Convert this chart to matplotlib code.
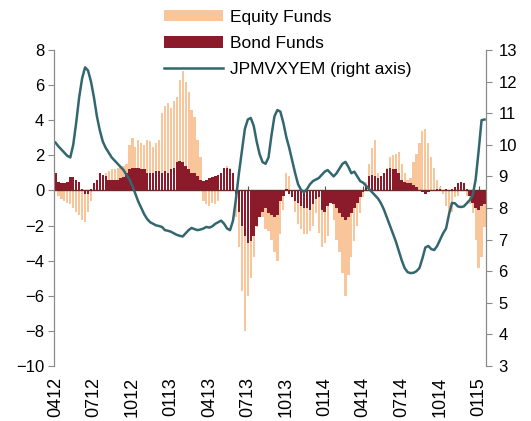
import matplotlib.pyplot as plt
from matplotlib.ticker import NullFormatter
import numpy as np

plt.rcParams['font.family'] = ['Liberation Sans', 'DejaVu Sans']

# weekly flows (% of AUM), left axis
equity = [0.4, -0.3, -0.5, -0.6, -0.7,
          -0.8, -1.0, -1.2, -1.4, -1.7,
          -1.8, -1.2, -0.6, 0.2, 0.5,
          0.8, 0.9, 1.0, 1.1, 1.2,
          1.2, 1.3, 1.4, 1.4, 1.5,
          2.6, 3.0, 2.5, 2.9, 2.7,
          2.6, 2.9, 2.8, 2.5, 2.7,
          2.9, 4.4, 4.8, 5.0, 4.7,
          5.1, 5.3, 6.3, 6.8, 6.2,
          5.6, 4.6, 4.2, 2.9, 1.9,
          -0.6, -0.8, -0.9, -0.7, -0.8,
          -0.6, 0.8, 1.2, 1.4, 1.3,
          0.9, -1.5, -3.2, -5.7, -8.0,
          -6.0, -5.0, -3.8, -2.1, -1.5,
          -1.5, -2.2, -2.3, -2.8, -3.5,
          -4.0, -2.5, -1.1, 1.0, 0.8,
          -0.3, -1.2, -1.9, -2.2, -2.5,
          -2.5, -2.3, -2.0, -1.3, -2.4,
          -3.2, -3.0, -2.6, -0.6, -1.7,
          -2.8, -3.5, -4.7, -6.0, -4.8,
          -3.8, -2.9, -2.0, -1.3, -0.4,
          0.5, 1.5, 2.4, 2.85, 1.0,
          0.6, 0.8, 1.3, 1.9, 2.0,
          2.1, 2.2, 1.5, 1.0, 0.6,
          0.7, 1.6, 2.1, 2.7, 3.4,
          3.5, 2.7, 1.9, 1.3, 0.6,
          0.2, -0.2, -0.9, -1.5, -1.2,
          -0.4, -0.3, 0.3, 0.2, -0.3,
          -0.8, -1.3, -2.8, -4.4, -3.8, -2.1]

bond = [1.0, 0.5, 0.45, 0.45, 0.5,
        0.75, 0.75, 0.6, 0.5, 0.1,
        -0.2, -0.2, 0.1, 0.4, 0.57,
        1.0, 0.9, 0.8, 0.6, 0.57,
        0.6, 0.6, 0.7, 0.75, 1.0,
        1.25, 1.3, 1.3, 1.3, 1.25,
        1.2, 1.0, 1.0, 1.0, 1.1,
        1.1, 1.0, 1.1, 1.0, 1.2,
        1.3, 1.6, 1.7, 1.6, 1.4,
        1.2, 1.0, 1.0, 0.8, 0.6,
        0.55, 0.6, 0.7, 0.75, 0.8,
        0.9, 1.0, 1.3, 1.3, 1.2,
        1.0, -0.2, -1.2, -2.0, -2.6,
        -3.0, -2.9, -2.6, -2.0, -1.5,
        -1.2, -1.0, -1.3, -1.4, -1.5,
        -1.4, -0.6, -0.3, 0.1, -0.2,
        -0.4, -0.6, -0.7, -0.9, -1.0,
        -1.0, -1.1, -0.8, -0.5, -0.4,
        -1.1, -1.2, -0.9, -0.7, -0.8,
        -1.0, -1.3, -1.5, -1.7, -1.5,
        -1.3, -1.0, -0.7, -0.4, -0.1,
        0.3, 0.85, 0.9, 0.8, 0.7,
        0.8, 1.0, 1.25, 1.3, 1.2,
        1.2, 1.0, 0.6, 0.5, 0.45,
        0.4, 0.3, 0.2, 0.0, -0.1,
        -0.2, -0.1, 0.0, 0.05, 0.1,
        0.1, 0.05, 0.1, 0.05, 0.1,
        0.2, 0.45, 0.5, 0.4, 0.1,
        -0.3, -0.7, -1.0, -1.1, -0.9, -0.8]

# JPMVXYEM, right axis
vxy = [10.07, 9.95, 9.85, 9.75, 9.65,
       9.6, 10.0, 10.7, 11.5, 12.1,
       12.45, 12.35, 12.0, 11.5, 10.9,
       10.45, 10.1, 9.9, 9.75, 9.6,
       9.5, 9.4, 9.3, 9.2, 9.05,
       8.9, 8.7, 8.45, 8.2, 8.0,
       7.8, 7.65, 7.55, 7.5, 7.45,
       7.43, 7.4, 7.3, 7.28, 7.25,
       7.2, 7.15, 7.12, 7.1, 7.2,
       7.3, 7.37, 7.33, 7.3, 7.32,
       7.35, 7.4, 7.38, 7.42, 7.5,
       7.55, 7.6, 7.5, 7.35, 7.3,
       7.6, 8.3, 9.1, 9.8, 10.5,
       10.8, 10.85, 10.6, 10.1, 9.7,
       9.45, 9.4, 9.6, 10.3, 10.9,
       11.1, 11.05, 10.7, 10.25, 9.9,
       9.5, 9.1, 8.75, 8.57, 8.5,
       8.6, 8.75, 8.85, 8.9, 8.95,
       9.05, 9.15, 9.2, 9.1, 9.0,
       9.1, 9.25, 9.4, 9.46, 9.3,
       9.1, 9.15, 9.0, 8.85, 8.8,
       8.7, 8.6, 8.5, 8.4, 8.3,
       8.15, 7.95, 7.7, 7.45, 7.2,
       6.95, 6.65, 6.35, 6.1, 5.97,
       5.94, 5.95, 6.0, 6.1, 6.4,
       6.75, 6.8, 6.7, 6.67, 6.8,
       7.0, 7.2, 7.35, 7.8, 8.16,
       8.15, 8.05, 8.03, 8.05, 8.15,
       8.25, 8.4, 8.9, 9.8, 10.78, 10.8]

tick_labels = ['0412', '0712', '1012', '0113', '0413', '0713', '1013',
               '0114', '0414', '0714', '1014', '0115']

eq_col = '#F9C59A'
bd_col = '#8B1A2A'
ln_col = '#33676F'
grey = '#8a8a8a'

x = np.arange(len(equity))
tick_pos = np.arange(len(tick_labels)) * 13

fig = plt.figure(figsize=(5.31, 4.21), dpi=100)
ax = fig.add_axes([54 / 531, 55 / 421, 432 / 531, 316 / 421])
ax2 = ax.twinx()

ax.bar(x, equity, width=0.75, color=eq_col, label='Equity Funds', zorder=2)
ax.bar(x, bond, width=0.85, color=bd_col, label='Bond Funds', zorder=3)
ax.axhline(0, color='#6b2a2a', lw=1.0, zorder=4)
ax2.plot(x, vxy, color=ln_col, lw=1.8, label='JPMVXYEM (right axis)')

ax.set_xlim(-0.5, len(equity) - 0.5)
ax.set_ylim(-10, 8)
ax.set_yticks(range(-10, 9, 2))
ax2.set_ylim(3, 13)
ax2.set_yticks(range(3, 14))

ax.set_xticks(tick_pos)
ax.set_xticklabels(tick_labels, rotation=90, fontsize=13)
ax.tick_params(axis='x', length=0, pad=8)

# small tick marks on the zero line
sec = ax.secondary_xaxis(10 / 18)
sec.set_xticks(tick_pos)
sec.xaxis.set_major_formatter(NullFormatter())
sec.tick_params(axis='x', direction='out', length=3, color='#555555')
sec.spines['bottom'].set_visible(False)
sec.spines['top'].set_visible(False)

for a in (ax, ax2):
    a.spines['top'].set_visible(False)
    a.spines['bottom'].set_visible(False)
    a.spines['left'].set_color(grey)
    a.spines['right'].set_color(grey)
ax.tick_params(axis='y', length=4, color=grey, labelsize=12, pad=3)
ax2.tick_params(axis='y', length=4, color=grey, labelsize=12, pad=5)

h1, l1 = ax.get_legend_handles_labels()
h2, l2 = ax2.get_legend_handles_labels()
fig.legend(h1 + h2, l1 + l2, loc='upper left', bbox_to_anchor=(164 / 531, 1 - 10 / 421),
           frameon=False, fontsize=12.5, handlelength=3.4, handleheight=0.6,
           labelspacing=0.64, handletextpad=0.4, borderpad=0, borderaxespad=0)

fig.savefig('out.png', dpi=100)
